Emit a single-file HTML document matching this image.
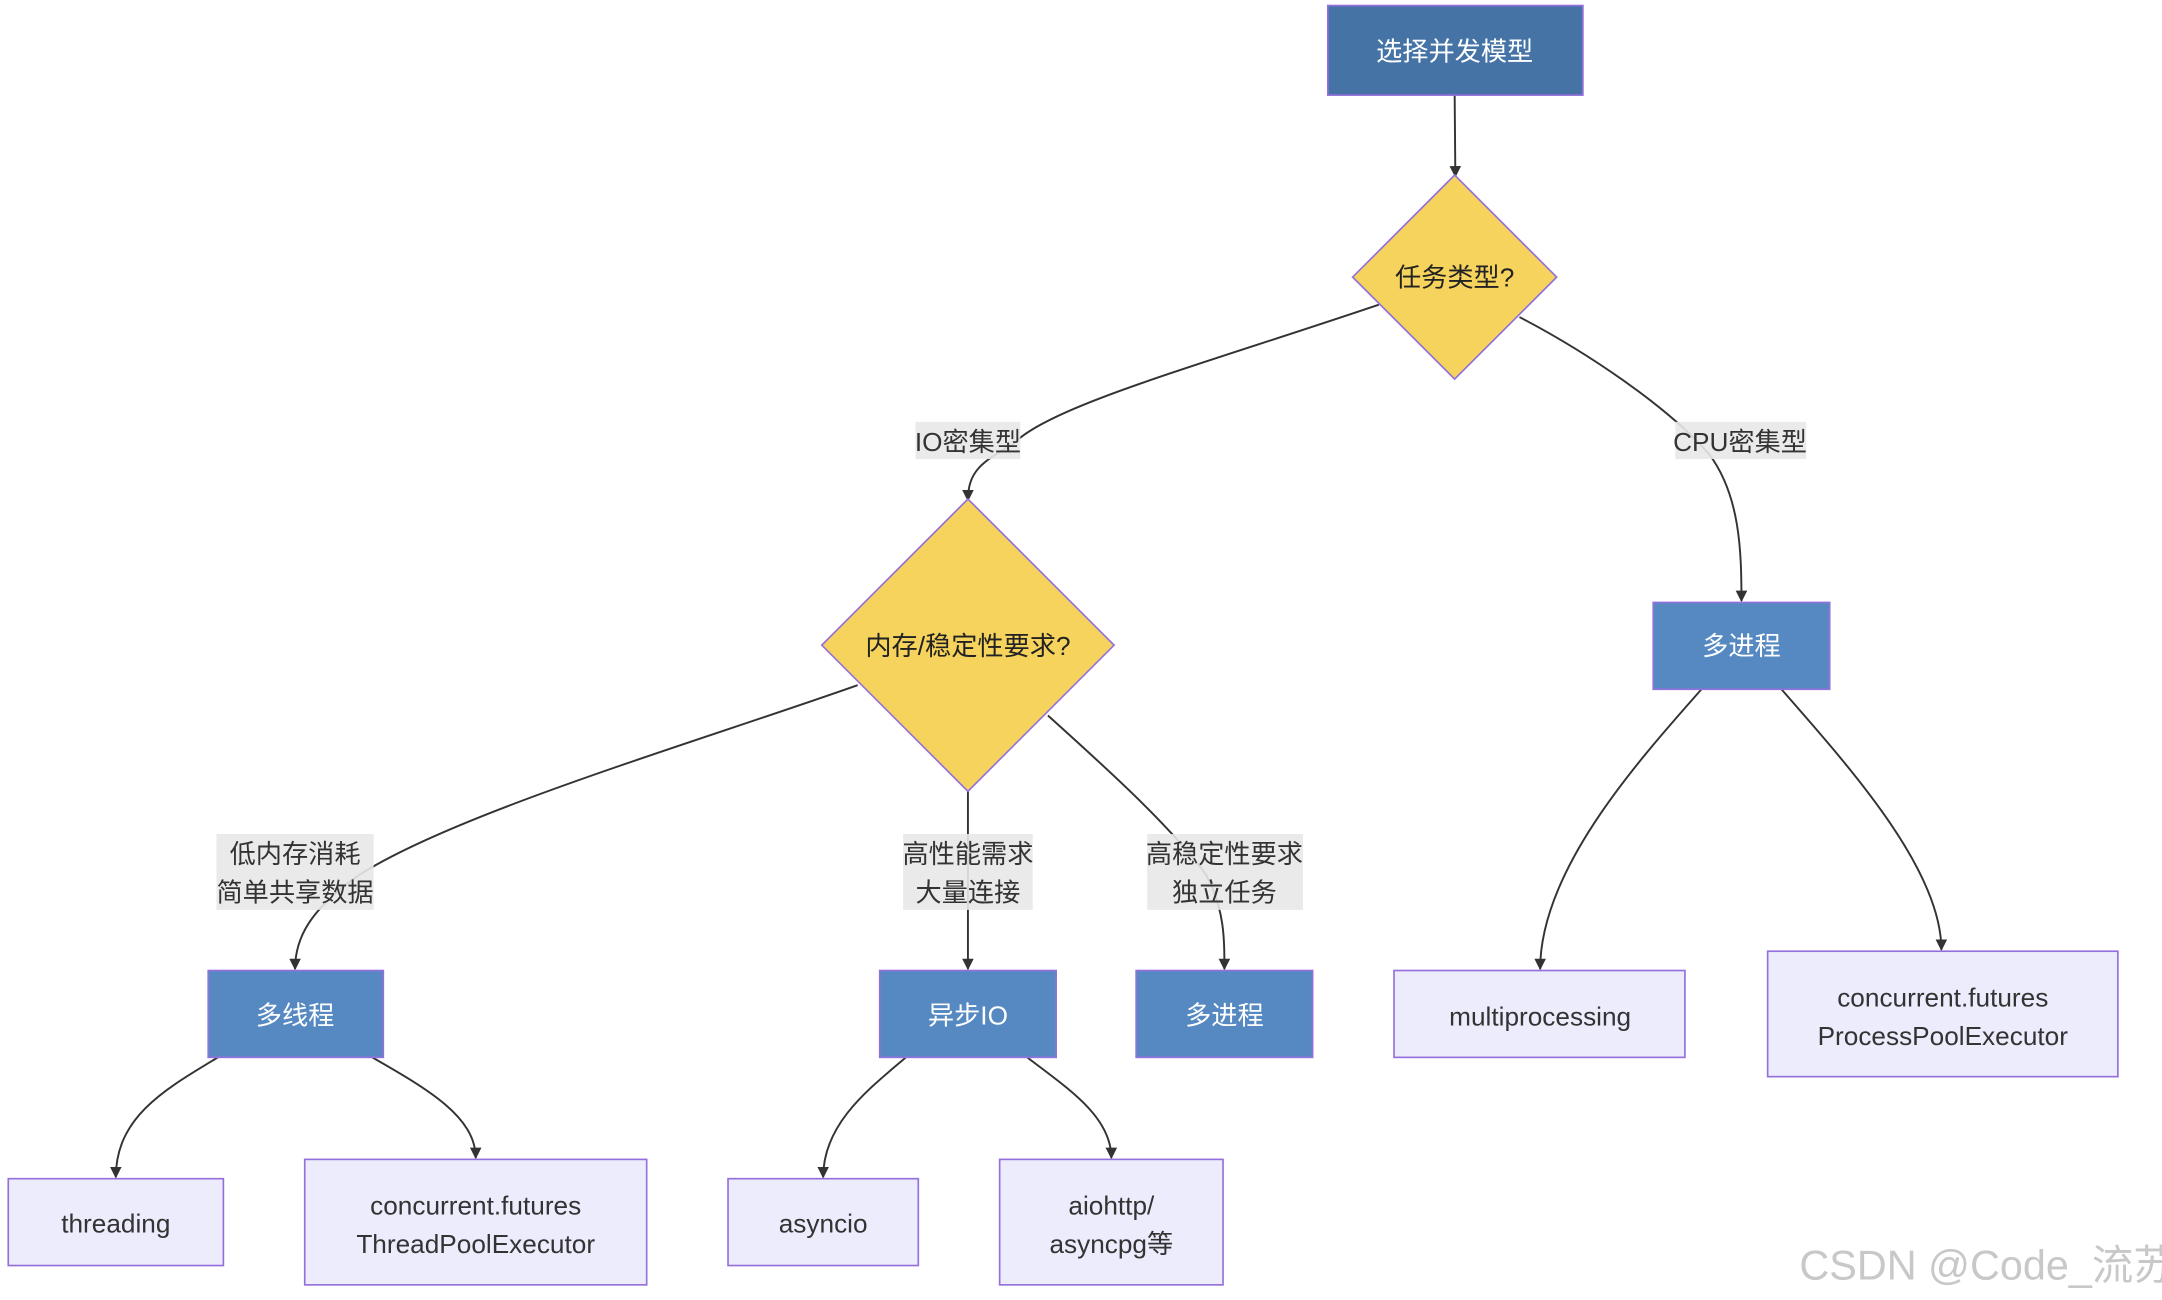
<!DOCTYPE html>
<html><head><meta charset="utf-8"><style>
html,body{margin:0;padding:0;background:#fff;}
svg{display:block;}
text{font-family:"Liberation Sans","Noto Sans CJK SC",sans-serif;}
</style></head><body>
<svg width="2162" height="1300" viewBox="0 0 1568 943" preserveAspectRatio="none" xmlns="http://www.w3.org/2000/svg">
<defs>
<marker id="a" viewBox="0 0 10 10" refX="9" refY="5" markerWidth="6" markerHeight="6" orient="auto"><path d="M0,0L10,5L0,10z" fill="#333"/></marker>
</defs>
<rect width="1568" height="943" fill="#fff"/>
<g fill="none" stroke="#333" stroke-width="1.4" marker-end="url(#a)">
<path d="M1055,69 L1055.5,128"/>
<path d="M1000,221 C870,265 760,295 735,322 C712,335 702,342 702,363"/>
<path d="M1102,230 C1150,255 1210,295 1240,330 C1262,360 1263,400 1263,436"/>
<path d="M622,497 C500,540 330,590 260,635 C225,660 214,680 214,703"/>
<path d="M702,574 L702,703"/>
<path d="M760,519 C800,555 850,600 875,635 C888,660 888,680 888,703"/>
<path d="M1234,500 C1190,550 1117,630 1117,703"/>
<path d="M1292,500 C1340,555 1408,630 1408,689"/>
<path d="M158,767 C120,790 84,810 84,854"/>
<path d="M270,767 C310,790 345,810 345,840"/>
<path d="M657,767 C630,790 597,815 597,854"/>
<path d="M745,767 C775,790 806,810 806,840"/>
</g>
<g stroke="#9370db" stroke-width="1.2">
<rect x="963" y="4" width="185" height="65" fill="#4573a6"/>
<polygon points="1055,127 1129,201 1055,275 981,201" fill="#f6d35c"/>
<polygon points="702,362 808,468 702,574 596,468" fill="#f6d35c"/>
<rect x="1199" y="437" width="128" height="63" fill="#5689c2"/>
<rect x="151" y="704" width="127" height="63" fill="#5689c2"/>
<rect x="638" y="704" width="128" height="63" fill="#5689c2"/>
<rect x="824" y="704" width="128" height="63" fill="#5689c2"/>
<g fill="#ececfd">
<rect x="6" y="855" width="156" height="63"/>
<rect x="221" y="841" width="248" height="91"/>
<rect x="528" y="855" width="138" height="63"/>
<rect x="725" y="841" width="162" height="91"/>
<rect x="1011" y="704" width="211" height="63"/>
<rect x="1282" y="690" width="254" height="91"/>
</g>
</g>
<g fill="#e8e8e8" opacity="0.9">
<rect x="664" y="306" width="76" height="27"/>
<rect x="1215" y="306" width="95" height="27"/>
<rect x="157" y="605" width="114" height="55"/>
<rect x="655" y="605" width="94" height="55"/>
<rect x="832" y="605" width="113" height="55"/>
</g>
<g font-size="19" text-anchor="middle" fill="#333">
<text x="702" y="327">IO密集型</text>
<text x="1262" y="327">CPU密集型</text>
<text x="214" y="626">低内存消耗</text><text x="214" y="654">简单共享数据</text>
<text x="702" y="626">高性能需求</text><text x="702" y="654">大量连接</text>
<text x="888" y="626">高稳定性要求</text><text x="888" y="654">独立任务</text>
</g>
<g font-size="19" text-anchor="middle">
<text x="1055" y="44" fill="#fff">选择并发模型</text>
<text x="1055" y="208" fill="#222">任务类型?</text>
<text x="702" y="475" fill="#222">内存/稳定性要求?</text>
<text x="1263" y="475" fill="#fff">多进程</text>
<text x="214" y="743" fill="#fff">多线程</text>
<text x="702" y="743" fill="#fff">异步IO</text>
<text x="888" y="743" fill="#fff">多进程</text>
<g fill="#333">
<text x="84" y="894">threading</text>
<text x="345" y="881">concurrent.futures</text><text x="345" y="909">ThreadPoolExecutor</text>
<text x="597" y="894">asyncio</text>
<text x="806" y="881">aiohttp/</text><text x="806" y="909">asyncpg等</text>
<text x="1117" y="744">multiprocessing</text>
<text x="1409" y="730">concurrent.futures</text><text x="1409" y="758">ProcessPoolExecutor</text>
</g>
</g>
<text x="1305" y="928" font-size="30" fill="#c8c8c8">CSDN @Code_流苏</text>
</svg>
</body></html>
